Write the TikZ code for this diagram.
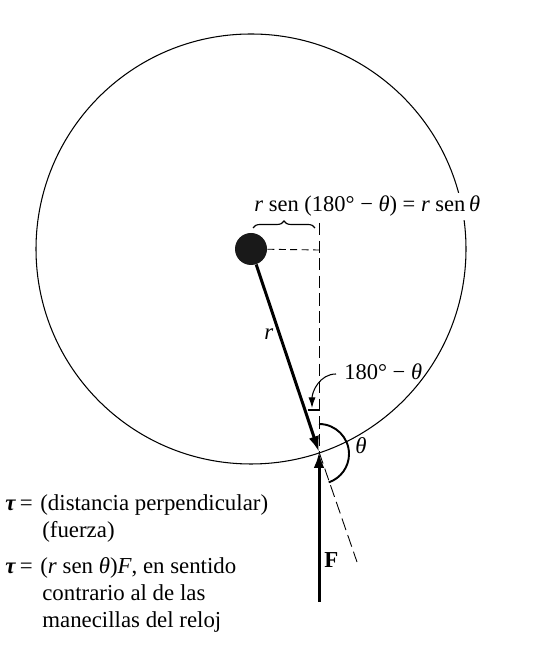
\documentclass[tikz,border=0pt]{standalone}
\usepackage{fontspec}
\setmainfont{Liberation Serif}
\usetikzlibrary{arrows.meta,decorations.pathreplacing}
\tikzset{
    label text/.style={inner sep=0pt,anchor=base west,font=\fontsize{13}{16}\selectfont},
    math text/.style={label text,font=\fontsize{12.8}{16}\selectfont},
    force line/.style={line width=1.7pt,-{Latex[length=9pt,width=6pt]}},
    long dash/.style={line width=0.5pt,dash pattern=on 7pt off 3pt},
    short dash/.style={line width=0.5pt,dash pattern=on 4pt off 2.5pt}
}
\begin{document}
\begin{tikzpicture}
        \useasboundingbox (0,0) rectangle (11.14,12.94);

        \coordinate (pivot) at (6.38,3.90);
        \coordinate (forcetail) at (6.38,0.90);
        \coordinate (extend) at (7.14,1.70);
        \coordinate (foot) at (6.38,7.94);
        \coordinate (verttop) at (6.38,8.48);
        \coordinate (bracel) at (5.06,8.38);
        \coordinate (bracer) at (6.30,8.38);
        \coordinate (markl) at (6.16,4.74);
        \coordinate (markr) at (6.38,4.74);
        \coordinate (arctop) at (6.38,4.46);
        \coordinate (curvestart) at (6.72,5.46);
        \coordinate (curveend) at (6.24,4.78);

        \node[circle,fill=black!90,inner sep=0pt,minimum size=0.64cm] (ball) at (5.02,7.96) {};
        \draw[line width=0.6pt] (ball.center) circle (4.3);

        \node[math text,fill=white,inner ysep=2pt] (arm) at (5.08,8.70) {\textit{r} sen (180° − \textit{θ}) = \textit{r} sen\,\textit{θ}};
        \draw[decorate,decoration={brace,amplitude=0.14cm},line width=0.65pt] (bracel) -- (bracer);

        \draw[short dash] (ball) -- (foot);
        \draw[long dash] (verttop) -- (pivot);
        \draw[long dash] (pivot) -- (extend);

        \draw[line width=0.6pt] (markl) -- (markr);
        \draw[force line] (ball) -- (pivot);
        \draw[force line] (forcetail) -- (pivot);
        \draw[line width=1.1pt] (arctop) arc[start angle=90,end angle=-71,radius=0.6];
        \draw[line width=0.6pt,-{Latex[length=6pt,width=4pt]}] (curvestart) to[out=180,in=90] (curveend);

        \node[label text] (rlabel) at (5.28,6.14) {\textit{r}};
        \node[math text] (anglelabel) at (6.88,5.35) {180° − \textit{θ}};
        \node[label text] (thetalabel) at (7.10,3.86) {\textit{θ}};
        \node[label text] (flabel) at (6.48,1.58) {\textbf{F}};

        \node[label text] (tauone) at (0.10,2.72) {\textbf{\textit{τ}}\,=\,\,(distancia perpendicular)};
        \node[label text] (fuerza) at (0.84,2.18) {(fuerza)};
        \node[label text] (tautwo) at (0.10,1.46) {\textbf{\textit{τ}}\,=\,\,(\textit{r} sen \textit{θ})\textit{F}, en sentido};
        \node[label text] (contrario) at (0.84,0.92) {contrario al de las};
        \node[label text] (manecillas) at (0.84,0.38) {manecillas del reloj};
    \end{tikzpicture}
\end{document}
